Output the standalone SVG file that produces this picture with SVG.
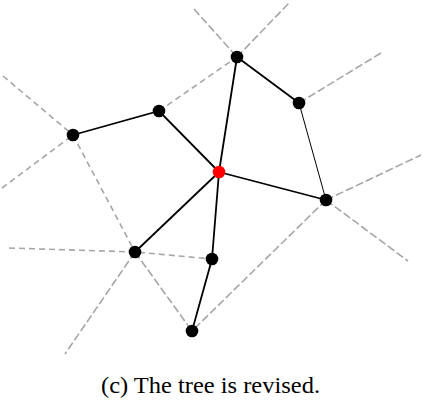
<svg xmlns="http://www.w3.org/2000/svg" width="424" height="400" viewBox="0 0 424 400">
<style>
.v{stroke:#a6a6a6;stroke-width:1.6;fill:none;stroke-dasharray:8,3}
.va{stroke:#a6a6a6;stroke-width:1.6;fill:none;stroke-dasharray:6,4}
.e{stroke:#000;stroke-width:1.8;fill:none}
.n{fill:#000}
.r{fill:#ff0000}
text{font-family:"Liberation Serif",serif;font-size:23px;fill:#000}
</style>
<rect width="424" height="400" fill="#fff"/>
<g id="voronoi">
<path class="va" d="M3,76 L73,135 M2,188 L73,135 M73,135 L135,252"/>
<path class="va" d="M159,111 L237,57"/>
<path class="v" d="M237,57 L289,3 M194,9 L237,57"/>
<path class="v" d="M299,103 L381,53"/>
<path class="v" d="M326,200 L421,155 M326,200 L408,261 M326,200 L192,331"/>
<path class="va" d="M9,248 L135,252 L212,259"/>
<path class="v" d="M135,252 L65,354 M135,252 L192,331"/>
</g>
<g id="edges">
<path class="e" d="M73,135 L159,111 L219,172 M237,57 L219,172 M237,57 L299,103 M219,172 L326,200 M219,172 L135,252 M219,172 L212,259 L192,331"/>
<path class="e" d="M299,103 L326,200" style="stroke-width:1"/>
</g>
<g id="nA"><circle class="n" cx="73" cy="135" r="6.3"/></g>
<g id="nB"><circle class="n" cx="159" cy="111" r="6.3"/></g>
<g id="nC"><circle class="n" cx="237" cy="57" r="6.3"/></g>
<g id="nD"><circle class="n" cx="299" cy="103" r="6.3"/></g>
<g id="nR"><circle class="r" cx="219" cy="172" r="6.3"/></g>
<g id="nE"><circle class="n" cx="326" cy="200" r="6.3"/></g>
<g id="nF"><circle class="n" cx="135" cy="252" r="6.3"/></g>
<g id="nG"><circle class="n" cx="212" cy="259" r="6.3"/></g>
<g id="nH"><circle class="n" cx="192" cy="331" r="6.3"/></g>
<text x="101" y="393" textLength="219" lengthAdjust="spacingAndGlyphs">(c) The tree is revised.</text>
</svg>
